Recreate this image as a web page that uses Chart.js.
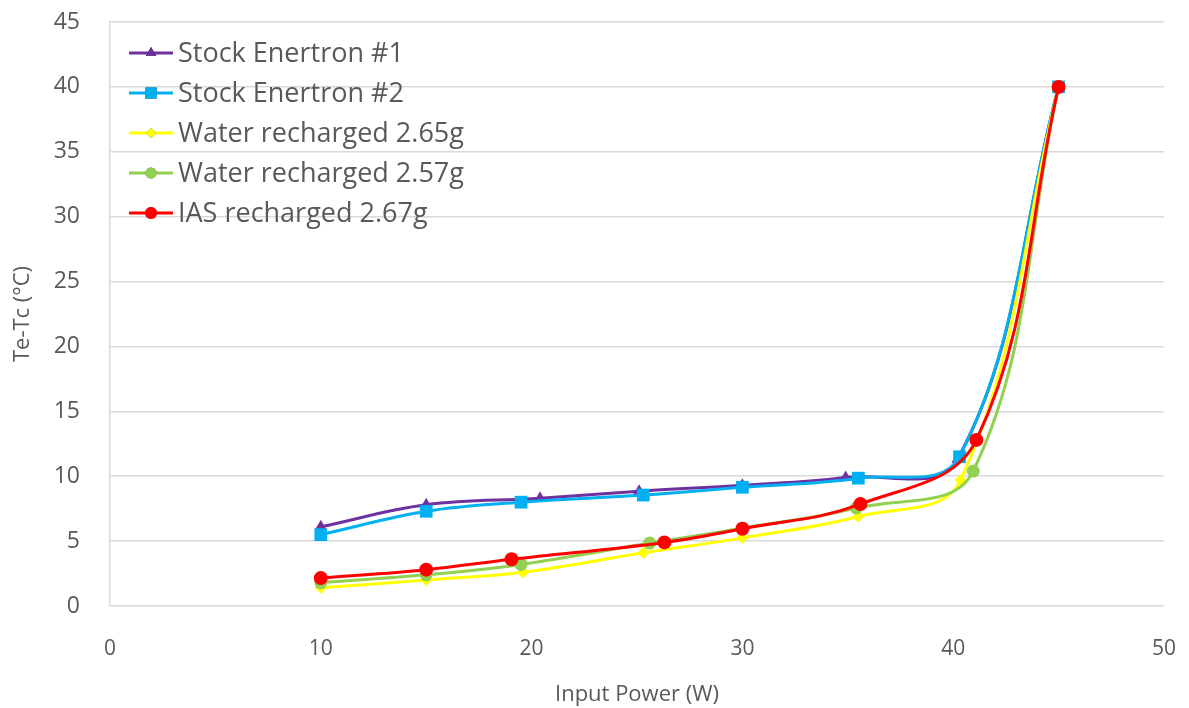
<!DOCTYPE html>
<html>
<head>
<meta charset="utf-8">
<title>Te-Tc vs Input Power</title>
<script src="https://cdn.jsdelivr.net/npm/chart.js@4.4.1/dist/chart.umd.min.js"></script>
<style>
  html, body { margin: 0; padding: 0; background: #ffffff; }
  #wrap { width: 1189px; height: 708px; position: relative; }
</style>
</head>
<body>
<div id="wrap"><canvas id="powerChart"></canvas></div>
<script>
const seriesNames = [
  "Stock Enertron #1",
  "Stock Enertron #2",
  "Water recharged 2.65g",
  "Water recharged 2.57g",
  "IAS recharged 2.67g",
];

// input power (W) and Te-Tc (°C) for each run
const stock1Power = [10, 15, 20.4, 25.1, 30, 34.9, 40.2, 45];
const stock1Delta = [6.1, 7.8, 8.3, 8.85, 9.3, 9.9, 11.3, 40];

const stock2Power = [10, 15, 19.5, 25.3, 30, 35.5, 40.3, 45];
const stock2Delta = [5.5, 7.3, 8.0, 8.55, 9.15, 9.85, 11.5, 40];

const water265Power = [10, 15, 19.6, 25.3, 30, 35.5, 40.35, 45];
const water265Delta = [1.4, 2.0, 2.6, 4.1, 5.25, 6.9, 9.7, 40];

const water257Power = [10, 15, 19.5, 25.6, 30, 35.4, 40.95, 45];
const water257Delta = [1.8, 2.4, 3.2, 4.85, 6.0, 7.55, 10.4, 40];

const iasPower = [10, 15, 19.05, 26.3, 30, 35.6, 41.1, 45];
const iasDelta = [2.15, 2.8, 3.6, 4.9, 5.95, 7.85, 12.8, 40];

const xTicks = [0, 10, 20, 30, 40, 50];
const yTicks = [0, 5, 10, 15, 20, 25, 30, 35, 40, 45];

const textColor = "#595959";
const gridColor = "#d9d9d9";

function toPoints(xs, ys) {
  return xs.map((x, i) => ({ x: x, y: ys[i] }));
}

const seriesStyles = [
  { color: "#7030a0", pointStyle: "triangle", radius: 7 },
  { color: "#00b0f0", pointStyle: "rect", radius: 9 },
  { color: "#ffff00", pointStyle: "rectRot", radius: 6 },
  { color: "#92d050", pointStyle: "circle", radius: 6.5 },
  { color: "#ff0000", pointStyle: "circle", radius: 7 },
];

const seriesData = [
  toPoints(stock1Power, stock1Delta),
  toPoints(stock2Power, stock2Delta),
  toPoints(water265Power, water265Delta),
  toPoints(water257Power, water257Delta),
  toPoints(iasPower, iasDelta),
];

const datasets = seriesNames.map((name, i) => ({
  label: name,
  data: seriesData[i],
  borderColor: seriesStyles[i].color,
  backgroundColor: seriesStyles[i].color,
  pointStyle: seriesStyles[i].pointStyle,
  pointRadius: seriesStyles[i].radius,
  pointBorderWidth: 0,
  borderWidth: 3,
  tension: 0.38,
  // later series sit on top
  order: seriesNames.length - i,
}));

// legend with a short line and the marker, drawn inside the plot area
const insideLegend = {
  id: "insideLegend",
  afterDraw(chart) {
    const ctx = chart.ctx;
    const x0 = 129;
    const x1 = 173;
    const top = 53;
    const step = 40;
    ctx.save();
    ctx.font = "27px 'Open Sans'";
    ctx.textBaseline = "middle";
    seriesNames.forEach((name, i) => {
      const y = top + i * step;
      const st = seriesStyles[i];
      ctx.strokeStyle = st.color;
      ctx.lineWidth = 3;
      ctx.beginPath();
      ctx.moveTo(x0, y);
      ctx.lineTo(x1, y);
      ctx.stroke();
      Chart.helpers.drawPoint(ctx, {
        pointStyle: st.pointStyle,
        radius: st.radius - 1,
        borderWidth: 0,
        rotation: 0,
      }, (x0 + x1) / 2, y);
      ctx.fillStyle = st.color;
      ctx.fill();
      ctx.fillStyle = textColor;
      ctx.fillText(name, 178, y + 1);
    });
    ctx.restore();
  },
};

new Chart(document.getElementById("powerChart"), {
  type: "line",
  data: { datasets: datasets },
  options: {
    responsive: true,
    maintainAspectRatio: false,
    animation: false,
    layout: { padding: { top: 22, right: 25, left: 0, bottom: 0 } },
    plugins: {
      legend: { display: false },
      tooltip: { enabled: false },
    },
    scales: {
      x: {
        type: "linear",
        min: 0,
        max: 50,
        afterBuildTicks(scale) {
          scale.ticks = xTicks.map((v) => ({ value: v }));
        },
        afterFit(scale) {
          scale.height = 102;
          scale.paddingLeft = 0;
          scale.paddingRight = 0;
        },
        grid: { display: false, drawTicks: false },
        border: { display: false },
        ticks: {
          color: textColor,
          font: { family: "'Open Sans'", size: 21 },
          padding: 30,
        },
        title: {
          display: true,
          text: "Input Power (W)",
          color: textColor,
          font: { family: "'Open Sans'", size: 22 },
          padding: { top: 0, bottom: 0 },
        },
      },
      y: {
        type: "linear",
        min: 0,
        max: 45,
        afterBuildTicks(scale) {
          scale.ticks = yTicks.map((v) => ({ value: v }));
        },
        afterFit(scale) {
          scale.width = 110;
          scale.paddingTop = 0;
          scale.paddingBottom = 0;
        },
        grid: { color: gridColor, lineWidth: 1.5, drawTicks: false },
        border: { display: true, color: gridColor, width: 1.5 },
        ticks: {
          color: textColor,
          font: { family: "'Open Sans'", size: 23 },
          padding: 30,
        },
        title: {
          display: true,
          text: "Te-Tc (°C)",
          color: textColor,
          font: { family: "'Open Sans'", size: 22 },
          padding: { top: 10, bottom: 0 },
        },
      },
    },
  },
  plugins: [insideLegend],
});
</script>
</body>
</html>
